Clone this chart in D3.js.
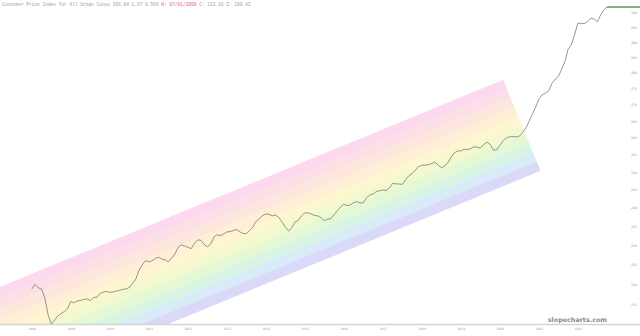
<!DOCTYPE html>
<html><head><meta charset="utf-8">
<script src="https://cdn.jsdelivr.net/npm/d3@7"></script>
<style>html,body{margin:0;padding:0;background:#fff;overflow:hidden}</style>
</head><body>
<svg id="c" width="640" height="336"></svg>
<script>
// ---- data ----
const startMonth = [2008, 5]; // June 2008 (year, 0-based month)
const cpiValues = [
 218.815,219.964,219.086,218.783,216.573,212.425,210.228,
 211.143,212.193,212.709,213.240,213.856,215.693,215.351,215.834,215.969,216.177,216.330,215.949,
 216.687,216.741,217.631,218.009,218.178,217.965,218.011,218.312,218.439,218.711,218.803,219.179,
 220.223,221.309,223.467,224.906,225.964,225.722,225.922,226.545,226.889,226.421,226.230,225.672,
 226.665,227.663,229.392,230.085,229.815,229.478,229.104,230.379,231.407,231.317,230.221,229.601,
 230.280,232.166,232.773,232.531,232.945,233.504,233.596,233.877,234.149,233.546,233.069,233.049,
 233.916,234.781,236.293,237.072,237.900,238.343,238.250,237.852,238.031,237.433,236.151,234.812,
 233.707,234.722,236.119,236.599,237.805,238.638,238.654,238.316,237.945,237.838,237.336,236.525,
 236.916,237.111,238.132,239.261,240.229,241.018,240.628,240.849,241.428,241.729,241.353,241.432,
 242.839,243.603,243.801,244.524,244.733,244.955,244.786,245.519,246.819,246.663,246.669,246.524,
 247.867,248.991,249.554,250.546,251.588,251.989,252.006,252.146,252.439,252.885,252.038,251.233,
 251.712,252.776,254.202,255.548,256.092,256.143,256.571,256.558,256.759,257.346,257.208,256.974,
 257.971,258.678,258.115,256.389,256.394,257.797,259.101,259.918,260.280,260.388,260.229,260.474,
 261.582,263.014,264.877,267.054,269.195,271.696,273.003,273.567,274.310,276.589,277.948,278.802,
 281.148,283.716,287.504,289.109,292.296,296.311,296.276,296.171,296.808,298.012,297.711,296.797,
 299.170,300.840,301.836
];
const xTickYears = [2008,2009,2010,2011,2012,2013,2014,2015,2016,2017,2018,2019,2020,2021,2022];
const yTickValues = [215,220,225,230,235,240,245,250,255,260,265,270,275,280,285,290,295,300];
// rainbow channel (two anchor dates, upper/lower values)
const channelDates = [Date.UTC(2006,6,1), Date.UTC(2020,6,1)];
const channelUpper = [214.9, 277.7];
const channelLower = [190.4, 246.1];
const channelColors = ['#fcd9ef','#fde0e7','#fde7dc','#feefd6','#fdf6cf','#f3f9cf','#e4f8d6','#d8f5e3','#d7ebf8','#dadaf8'];
const titleMain = 'Consumer Price Index for All Urban Consu 303.84 1.67 0.56% ';
const titleRed = 'H: 07/01/2008';
const titleRest = ' C: 213.10 Z: 299.43';

// ---- build ----
const dates = cpiValues.map((v,i)=>new Date(Date.UTC(startMonth[0], startMonth[1]+i, 1)));
const series = dates.map((d,i)=>({d, v: cpiValues[i]}));

const W = 640, H = 336, plotBottom = 324;
const x = d3.scaleUtc().domain([Date.UTC(2008,6,1), Date.UTC(2023,6,1)]).range([35, 620]);
const y = d3.scaleLog().domain(d3.extent(cpiValues)).range([plotBottom, 7]);

const svg = d3.select('#c');
svg.append('defs').append('clipPath').attr('id','plot')
  .append('rect').attr('x',0).attr('y',0).attr('width',W).attr('height',plotBottom);

// channel stripes
const gBand = svg.append('g').attr('clip-path','url(#plot)');
const x0 = x(channelDates[0]), x1 = x(channelDates[1]);
const t0 = y(channelUpper[0]), t1 = y(channelUpper[1]);
const b0 = y(channelLower[0]);
let dx = x1-x0, dy = t1-t0; const len = Math.hypot(dx,dy); dx/=len; dy/=len;
const nx = -dy, ny = dx;
const w = (b0 - t0) * ny;
const n = channelColors.length;
channelColors.forEach((col,i)=>{
  const f0 = i/n, f1 = (i+1)/n;
  const pts = [
    [x0 + nx*w*f0, t0 + ny*w*f0],
    [x1 + nx*w*f0, t1 + ny*w*f0],
    [x1 + nx*w*f1, t1 + ny*w*f1],
    [x0 + nx*w*f1, t0 + ny*w*f1]
  ];
  gBand.append('polygon').attr('points', pts.map(p=>p.join(',')).join(' '))
    .attr('fill', col).attr('stroke', col).attr('stroke-width', 0.3);
});

// x axis line
svg.append('line').attr('x1',0).attr('x2',W).attr('y1',plotBottom+0.5).attr('y2',plotBottom+0.5)
  .attr('stroke','#d4d4d4').attr('stroke-width',1.5);

// x axis labels
const xAxis = d3.axisBottom(x).tickValues(xTickYears.map(yr=>new Date(Date.UTC(yr,5,1))))
  .tickFormat(d3.utcFormat('%Y')).tickSize(0).tickPadding(4);
const gx = svg.append('g').attr('transform',`translate(0,${plotBottom})`).call(xAxis);
gx.select('.domain').remove();
gx.selectAll('text').attr('font-family','DejaVu Sans, sans-serif').attr('font-size',3).attr('fill','#999');

// y axis labels (right)
const yAxis = d3.axisRight(y).tickValues(yTickValues).tickFormat(d3.format('d')).tickSize(0).tickPadding(0);
const gy = svg.append('g').attr('transform','translate(634,0)').call(yAxis);
gy.select('.domain').remove();
gy.selectAll('text').attr('text-anchor','middle').attr('font-family','DejaVu Sans, sans-serif')
  .attr('font-size',3.2).attr('fill','#999');

// price line
const line = d3.line().x(d=>x(d.d)).y(d=>y(d.v)).curve(d3.curveLinear);
svg.append('path').datum(series).attr('d', line).attr('fill','none')
  .attr('stroke','#6a6a6a').attr('stroke-width',0.7).attr('stroke-linejoin','round');

// last-value green line
const last = series[series.length-1];
svg.append('line').attr('x1', x(last.d)).attr('x2', W).attr('y1', y(last.v)).attr('y2', y(last.v))
  .attr('stroke','#7cb87c').attr('stroke-width',2);

// title
const t = svg.append('text').attr('x',2).attr('y',5.6).attr('font-family','Liberation Mono, monospace')
  .attr('font-size',4.5).attr('fill','#a0a0a0').attr('xml:space','preserve').style('white-space','pre');
t.append('tspan').text(titleMain);
t.append('tspan').attr('fill','#e0607a').text(titleRed);
t.append('tspan').text(titleRest);

// watermark
svg.append('text').attr('x',607).attr('y',322).attr('text-anchor','end')
  .attr('font-family','DejaVu Sans, sans-serif').attr('font-weight','bold').attr('font-size',6.4)
  .attr('fill','#8a8a8a').text('slopecharts.com');
</script>
</body></html>
